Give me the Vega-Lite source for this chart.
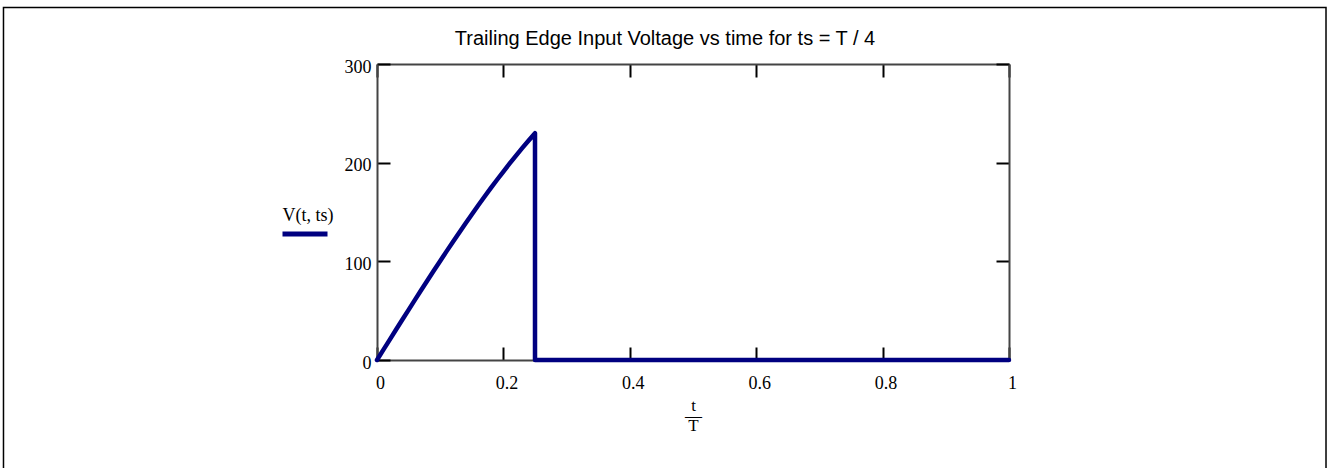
{
  "$schema": "https://vega.github.io/schema/vega-lite/v6.json",
  "autosize": {"type": "none"},
  "width": 632,
  "height": 296,
  "padding": {"left": 377, "top": 64, "right": 319, "bottom": 108},
  "background": "white",
  "title": {
    "text": "Trailing Edge Input Voltage vs time for ts = T / 4",
    "font": "Liberation Sans",
    "fontSize": 20,
    "fontWeight": "normal",
    "color": "#000000",
    "anchor": "middle",
    "dx": -28,
    "offset": -42
  },
  "config": {
    "view": {"stroke": null},
    "axis": {
      "labelFont": "Liberation Serif",
      "labelFontSize": 18,
      "labelColor": "#000000",
      "titleFont": "Liberation Serif",
      "titleFontSize": 17,
      "titleFontWeight": "normal",
      "titleColor": "#000000",
      "grid": false,
      "domainColor": "#444444",
      "domainWidth": 2,
      "tickColor": "#000000",
      "tickWidth": 2,
      "tickSize": -13,
      "labelFlush": false
    }
  },
  "datasets": {
    "v": [
      {"tT": 0.00, "V": 0.0, "s": "V", "k": 0},
      {"tT": 0.01, "V": 10.21, "s": "V", "k": 1},
      {"tT": 0.02, "V": 20.41, "s": "V", "k": 2},
      {"tT": 0.03, "V": 30.59, "s": "V", "k": 3},
      {"tT": 0.04, "V": 40.73, "s": "V", "k": 4},
      {"tT": 0.05, "V": 50.84, "s": "V", "k": 5},
      {"tT": 0.06, "V": 60.90, "s": "V", "k": 6},
      {"tT": 0.07, "V": 70.90, "s": "V", "k": 7},
      {"tT": 0.08, "V": 80.82, "s": "V", "k": 8},
      {"tT": 0.09, "V": 90.67, "s": "V", "k": 9},
      {"tT": 0.10, "V": 100.43, "s": "V", "k": 10},
      {"tT": 0.11, "V": 110.09, "s": "V", "k": 11},
      {"tT": 0.12, "V": 119.64, "s": "V", "k": 12},
      {"tT": 0.13, "V": 129.07, "s": "V", "k": 13},
      {"tT": 0.14, "V": 138.38, "s": "V", "k": 14},
      {"tT": 0.15, "V": 147.55, "s": "V", "k": 15},
      {"tT": 0.16, "V": 156.57, "s": "V", "k": 16},
      {"tT": 0.17, "V": 165.44, "s": "V", "k": 17},
      {"tT": 0.18, "V": 174.14, "s": "V", "k": 18},
      {"tT": 0.19, "V": 182.68, "s": "V", "k": 19},
      {"tT": 0.20, "V": 191.03, "s": "V", "k": 20},
      {"tT": 0.21, "V": 199.19, "s": "V", "k": 21},
      {"tT": 0.22, "V": 207.16, "s": "V", "k": 22},
      {"tT": 0.23, "V": 214.93, "s": "V", "k": 23},
      {"tT": 0.24, "V": 222.48, "s": "V", "k": 24},
      {"tT": 0.25, "V": 229.81, "s": "V", "k": 25},
      {"tT": 0.25, "V": 0.0, "s": "V", "k": 26},
      {"tT": 1.00, "V": 0.0, "s": "V", "k": 27}
    ]
  },
  "layer": [
    {
      "data": {"values": [{"f": 1}]},
      "mark": {"type": "rect", "filled": false, "stroke": "#000000", "strokeWidth": 1.5, "clip": false},
      "encoding": {
        "x": {"datum": -0.591, "type": "quantitative", "scale": {"domain": [0, 1], "nice": false, "zero": false}, "axis": null},
        "x2": {"datum": 1.5016},
        "y": {"datum": 357.3, "type": "quantitative", "scale": {"domain": [0, 300], "nice": false, "zero": false}, "axis": null},
        "y2": {"datum": -116.6}
      }
    },
    {
      "data": {"name": "v"},
      "mark": {"type": "line", "strokeWidth": 4.5, "strokeCap": "round", "strokeJoin": "round", "clip": false},
      "encoding": {
        "x": {
          "field": "tT", "type": "quantitative",
          "scale": {"domain": [0, 1], "nice": false, "zero": false},
          "axis": {
            "orient": "bottom",
            "values": [0, 0.2, 0.4, 0.6, 0.8, 1],
            "format": "~g",
            "labelPadding": 27,
            "labelOffset": 3,
            "title": ["t", "—", "T"],
            "titleLineHeight": 10,
            "titleX": 316,
            "titleY": 37,
            "titleAnchor": null,
            "titleAlign": "center",
            "titleBaseline": "top"
          }
        },
        "y": {
          "field": "V", "type": "quantitative",
          "scale": {"domain": [0, 300], "nice": false, "zero": false},
          "axis": {
            "orient": "left",
            "values": [0, 100, 200, 300],
            "format": "d",
            "labelPadding": 19,
            "labelOffset": 3,
            "labelBaseline": "middle",
            "title": "V(t, ts)",
            "titleFontSize": 18,
            "titleAngle": 0,
            "titleX": -95,
            "titleY": 156,
            "titleAlign": "left",
            "titleBaseline": "alphabetic",
            "titleAnchor": null
          }
        },
        "order": {"field": "k", "type": "quantitative"},
        "color": {
          "field": "s", "type": "nominal",
          "scale": {"range": ["#000080"]},
          "legend": {
            "title": null,
            "orient": "none",
            "legendX": -97,
            "legendY": 145,
            "symbolType": "stroke",
            "symbolSize": 2025,
            "symbolStrokeWidth": 5,
            "labelExpr": "''",
            "padding": 0
          }
        }
      }
    },
    {
      "data": {"name": "v"},
      "mark": {"type": "point", "opacity": 0},
      "encoding": {
        "x": {
          "field": "tT", "type": "quantitative",
          "scale": {"domain": [0, 1], "nice": false, "zero": false},
          "axis": {"orient": "top", "values": [0, 0.2, 0.4, 0.6, 0.8, 1], "labels": false, "title": null}
        },
        "y": {
          "field": "V", "type": "quantitative",
          "scale": {"domain": [0, 300], "nice": false, "zero": false},
          "axis": {"orient": "right", "values": [0, 100, 200, 300], "labels": false, "title": null}
        }
      }
    }
  ],
  "resolve": {"axis": {"x": "independent", "y": "independent"}}
}
